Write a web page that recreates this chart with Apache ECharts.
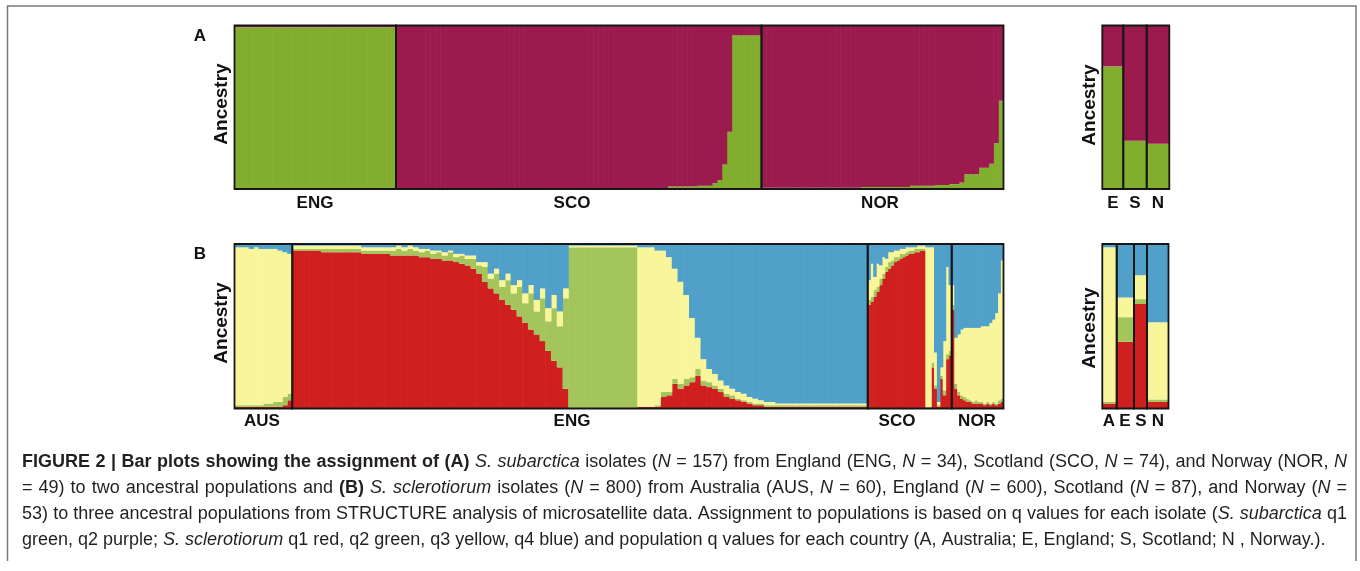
<!DOCTYPE html>
<html><head><meta charset="utf-8">
<script src="https://cdn.jsdelivr.net/npm/echarts@6/dist/echarts.min.js"></script>
<style>html,body{margin:0;padding:0;background:#fff}#c{width:1360px;height:571px}</style>
</head><body><div id="c"></div><script>
// ---------- Panel A (S. subarctica): q1 green, q2 purple, % per isolate ----------
const A_ENG_green = [99,99,99,99,99,99,99,99,99,99, 99,99,99,99,99,99,99,99,99,99, 99,99,99,99,99,99,99,99,99,99, 99,99,99,99];
const A_ENG_purple = [1,1,1,1,1,1,1,1,1,1, 1,1,1,1,1,1,1,1,1,1, 1,1,1,1,1,1,1,1,1,1, 1,1,1,1];
const A_SCO_green = [0.6,0.6,0.6,0.6,0.6,0.6,0.6,0.6,0.6,0.6, 0.6,0.6,0.6,0.6,0.6,0.6,0.6,0.6,0.6,0.6,
  0.6,0.6,0.6,0.6,0.6,0.6,0.6,0.6,0.6,0.6, 0.6,0.6,0.6,0.6,0.6,0.6,0.6,0.6,0.6,0.6,
  0.6,0.6,0.6,0.6,0.6,0.6,0.6,0.6,0.6,0.6, 0.6,0.6,0.6,0.6,0.6,
  1.5,1.5,1.5,1.5,1.5,1.5, 2,2,2, 3.5,5.5,15,35, 94,94,94,94,94,94];
const A_SCO_purple = [99.4,99.4,99.4,99.4,99.4,99.4,99.4,99.4,99.4,99.4, 99.4,99.4,99.4,99.4,99.4,99.4,99.4,99.4,99.4,99.4,
  99.4,99.4,99.4,99.4,99.4,99.4,99.4,99.4,99.4,99.4, 99.4,99.4,99.4,99.4,99.4,99.4,99.4,99.4,99.4,99.4,
  99.4,99.4,99.4,99.4,99.4,99.4,99.4,99.4,99.4,99.4, 99.4,99.4,99.4,99.4,99.4,
  98.5,98.5,98.5,98.5,98.5,98.5, 98,98,98, 96.5,94.5,85,65, 6,6,6,6,6,6];
const A_NOR_green = [0.7,0.7,0.7,0.7,0.7,0.7,0.7,0.7,0.7,0.7, 0.7,0.7,0.7,0.7,0.7,0.7,0.7,0.7,0.7,0.7,
  1.2,1.2,1.2,1.2,1.2,1.2,1.2,1.2,1.2,1.2, 2,2,2,2,2, 2.5,2.5,2.5, 3,3, 4, 9,9,9, 13,13, 15.5, 28, 54];
const A_NOR_purple = [99.3,99.3,99.3,99.3,99.3,99.3,99.3,99.3,99.3,99.3, 99.3,99.3,99.3,99.3,99.3,99.3,99.3,99.3,99.3,99.3,
  98.8,98.8,98.8,98.8,98.8,98.8,98.8,98.8,98.8,98.8, 98,98,98,98,98, 97.5,97.5,97.5, 97,97, 96, 91,91,91, 87,87, 84.5, 72, 46];
// country means, panel A
const A_SUM_cats = ['E','S','N'];
const A_SUM_green = [75, 29.5, 27.6];
const A_SUM_purple = [25, 70.5, 72.4];

// ---------- Panel B (S. sclerotiorum): q1 red, q2 green, q3 yellow, q4 blue, % per group of isolates ----------
const B_AUS_red    = [1,1,1,1,1,1,1,1,1,1,2,5];
const B_AUS_green  = [1,1,1,1,1,1,2,2,3,3,5,4];
const B_AUS_yellow = [96,96,96,95,96,95,94,94,93,92,88,85];
const B_AUS_blue   = [2,2,2,3,2,3,3,3,3,4,5,6];

const B_ENG_red = [96,96,96,96,96,95,95,95,95,95, 95,95,94,94,94,94,94,93,93,93,
  93,93,92,92,91,91,90,90,89,88, 87,85,82,77,73,70,66,63,60,56,
  52,48,45,41,35,29,25,12,0,0, 0,0,0,0,0,0,0,0,0,0,
  1,1,1,1,7,8,15,12,14,16, 20,14,13,12,10,7,6,5,4,3,
  2,2,1,1,1,1,1,1,1,1, 1,1,1,1,1,1,1,1,1,1];
const B_ENG_green = [1,1,1,1,1,2,2,2,2,2, 2,2,2,2,2,2,2,3,4,3,
  4,3,3,4,3,4,3,5,3,5, 4,6,5,9,6,12,8,15,10,18,
  12,22,14,26,18,32,25,55,98,98, 98,98,98,98,98,98,98,98,98,98,
  0,0,0,1,3,2,3,3,4,3, 4,3,3,2,2,2,2,1,1,1,
  1,1,1,1,1,1,1,1,1,1, 1,1,1,1,1,1,1,1,1,1];
const B_ENG_yellow = [2,2,2,2,2,2,2,2,2,2, 2,2,2,2,2,2,2,2,2,2,
  2,2,2,1,2,1,2,1,2,1, 2,2,2,3,3,3,4,4,5,4,
  6,5,7,6,8,8,9,6,1,1, 1,1,1,1,1,1,1,1,1,1,
  97,97,97,94,86,82,67,62,51,36, 19,13,8,7,5,5,4,4,4,3,
  3,2,2,2,1,1,1,1,1,1, 1,1,1,1,1,1,1,1,1,1];
const B_ENG_blue = [1,1,1,1,1,1,1,1,1,1, 1,1,2,2,2,2,2,2,1,2,
  1,2,3,3,4,4,5,4,6,6, 7,7,11,11,18,15,22,18,25,22,
  30,25,34,27,39,31,41,27,1,1, 1,1,1,1,1,1,1,1,1,1,
  2,2,2,4,4,8,15,23,31,45, 57,70,76,79,83,86,88,90,91,93,
  94,95,96,96,97,97,97,97,97,97, 97,97,97,97,97,97,97,97,97,97];

const B_SCO_red    = [63,65,68,71,75,79,83,85,87,89,90,91,92,93,94,94,95,95,96,96, 0,0,25,12,1,18,8,30,32];
const B_SCO_green  = [3,3,4,3,4,3,3,4,3,3,2,3,2,2,2,2,2,2,1,1, 1,1,3,2,1,2,3,3,3];
const B_SCO_yellow = [12,20,8,14,8,10,5,6,5,4,4,3,3,3,2,2,1,2,2,2, 97,97,70,20,2,5,30,53,40];
const B_SCO_blue   = [22,12,20,12,13,8,9,5,5,4,4,3,3,2,2,2,2,1,1,1, 2,2,2,66,96,75,59,14,25];

const B_NOR_red    = [60,12,8,6,5,4,4,3,3,3,3,2,3,2,3,2,3,4];
const B_NOR_green  = [3,3,2,2,2,2,1,1,2,1,1,1,1,1,1,1,2,2];
const B_NOR_yellow = [12,28,35,40,42,43,44,45,44,45,46,47,46,49,50,55,65,84];
const B_NOR_blue   = [25,57,55,52,51,51,51,51,51,51,50,50,50,48,46,42,30,10];

// country means, panel B
const B_SUM_cats = ['A','E','S','N'];
const B_SUM_red    = [3, 40.5, 63.5, 4];
const B_SUM_green  = [1, 15, 3, 1.5];
const B_SUM_yellow = [94, 12, 14.5, 47];
const B_SUM_blue   = [2, 32.5, 19, 47.5];

// ---------- styling ----------
const C_GREEN_A = '#82ae2f', C_PURPLE = '#9b1b4f';
const C_RED = '#cf1f1f', C_GREEN_B = '#a4c55b', C_YELLOW = '#f8f59b', C_BLUE = '#51a0c9';
const FONT = "'Liberation Sans', Arial, Helvetica, sans-serif";
const CAP_FONT = "'Liberation Sans Narrow', 'Liberation Sans', Arial, sans-serif";

const chart = echarts.init(document.getElementById('c'), null, {renderer: 'canvas'});
const grids = [], xAxes = [], yAxes = [], series = [], graphics = [];

function addPanel(left, right, top, bottom, cats, layers) {
  const gi = grids.length;
  const band = (right - left) / cats.length;
  grids.push({left: left, top: top, width: right - left, height: bottom - top, show: false, containLabel: false, outerBoundsMode: 'none'});
  xAxes.push({type: 'category', gridIndex: gi, data: cats, show: false, boundaryGap: true});
  yAxes.push({type: 'value', gridIndex: gi, min: 0, max: 100, show: false});
  layers.forEach(L => series.push({
    type: 'bar', xAxisIndex: gi, yAxisIndex: gi, stack: 's' + gi, data: L[0],
    barWidth: band + 0.6, barGap: '-100%',
    itemStyle: {color: L[1], borderWidth: 0},
    silent: true, animation: false
  }));
  graphics.push({type: 'rect', shape: {x: left, y: top, width: right - left, height: bottom - top},
    style: {fill: 'none', stroke: '#161616', lineWidth: 1.8}, z: 50, silent: true});
}
function idx(prefix, arr) { return arr.map((_, i) => prefix + (i + 1)); }

// Panel A layout
const A_TOP = 25.5, A_BOT = 189;
const A_X = [234.5, 396, 761.5, 1003.5];
addPanel(A_X[0], A_X[1], A_TOP, A_BOT, idx('ENG', A_ENG_green), [[A_ENG_green, C_GREEN_A], [A_ENG_purple, C_PURPLE]]);
addPanel(A_X[1], A_X[2], A_TOP, A_BOT, idx('SCO', A_SCO_green), [[A_SCO_green, C_GREEN_A], [A_SCO_purple, C_PURPLE]]);
addPanel(A_X[2], A_X[3], A_TOP, A_BOT, idx('NOR', A_NOR_green), [[A_NOR_green, C_GREEN_A], [A_NOR_purple, C_PURPLE]]);
const AS_X = [1102.3, 1123.3, 1146.7, 1169.3];
A_SUM_cats.forEach((c, k) => addPanel(AS_X[k], AS_X[k + 1], A_TOP, A_BOT, [c],
  [[[A_SUM_green[k]], C_GREEN_A], [[A_SUM_purple[k]], C_PURPLE]]));

// Panel B layout
const B_TOP = 244, B_BOT = 408.5;
const B_X = [234.5, 292.3, 867.7, 951.7, 1003.5];
const bRegions = [
  ['AUS', B_AUS_red, B_AUS_green, B_AUS_yellow, B_AUS_blue],
  ['ENG', B_ENG_red, B_ENG_green, B_ENG_yellow, B_ENG_blue],
  ['SCO', B_SCO_red, B_SCO_green, B_SCO_yellow, B_SCO_blue],
  ['NOR', B_NOR_red, B_NOR_green, B_NOR_yellow, B_NOR_blue]
];
bRegions.forEach((r, k) => addPanel(B_X[k], B_X[k + 1], B_TOP, B_BOT, idx(r[0], r[1]),
  [[r[1], C_RED], [r[2], C_GREEN_B], [r[3], C_YELLOW], [r[4], C_BLUE]]));
const BS_X = [1102.3, 1116.7, 1134, 1147, 1168.5];
B_SUM_cats.forEach((c, k) => addPanel(BS_X[k], BS_X[k + 1], B_TOP, B_BOT, [c],
  [[[B_SUM_red[k]], C_RED], [[B_SUM_green[k]], C_GREEN_B], [[B_SUM_yellow[k]], C_YELLOW], [[B_SUM_blue[k]], C_BLUE]]));

// labels
function txt(t, x, y, size, rot) {
  return {type: 'text', x: x, y: y, rotation: rot || 0, z: 60, silent: true,
    style: {text: t, fontSize: size, fontWeight: 'bold', fontFamily: FONT, fill: '#111',
      align: 'center', verticalAlign: 'middle', textAlign: 'center', textVerticalAlign: 'middle'}};
}
graphics.push(txt('A', 200, 36, 17));
graphics.push(txt('B', 200, 254, 17));
graphics.push(txt('Ancestry', 222, 104, 19, Math.PI / 2));
graphics.push(txt('Ancestry', 222, 323, 19, Math.PI / 2));
graphics.push(txt('Ancestry', 1090, 105, 19, Math.PI / 2));
graphics.push(txt('Ancestry', 1090, 328, 19, Math.PI / 2));
const A_LABELS = [['ENG', 315, 203], ['SCO', 572, 203], ['NOR', 880, 203], ['E', 1113, 203], ['S', 1135, 203], ['N', 1158, 203]];
const B_LABELS = [['AUS', 262, 421], ['ENG', 572, 421], ['SCO', 897, 421], ['NOR', 977, 421],
  ['A', 1109, 421], ['E', 1125, 421], ['S', 1141, 421], ['N', 1158, 421]];
A_LABELS.concat(B_LABELS).forEach(l => graphics.push(txt(l[0], l[1], l[2], 17)));

// outer frame
graphics.push({type: 'polyline', shape: {points: [[7.5, 561], [7.5, 6], [1356, 6], [1356, 561]]},
  style: {fill: 'none', stroke: '#7a7a7a', lineWidth: 1.5}, z: 40, silent: true});

// caption (justified)
const CAPTION = [
  [['b', 'FIGURE 2 | Bar plots showing the assignment of (A)'], ['i', ' S. subarctica'], ['', ' isolates ('], ['i', 'N'], ['', ' = 157) from England (ENG, '], ['i', 'N'], ['', ' = 34), Scotland (SCO, '], ['i', 'N'], ['', ' = 74), and Norway (NOR, '], ['i', 'N']],
  [['', '= 49) to two ancestral populations and '], ['b', '(B)'], ['i', ' S. sclerotiorum'], ['', ' isolates ('], ['i', 'N'], ['', ' = 800) from Australia (AUS, '], ['i', 'N'], ['', ' = 60), England ('], ['i', 'N'], ['', ' = 600), Scotland ('], ['i', 'N'], ['', ' = 87), and Norway ('], ['i', 'N'], ['', ' =']],
  [['', '53) to three ancestral populations from STRUCTURE analysis of microsatellite data. Assignment to populations is based on q values for each isolate ('], ['i', 'S. subarctica'], ['', ' q1']],
  [['', 'green, q2 purple; '], ['i', 'S. sclerotiorum'], ['', ' q1 red, q2 green, q3 yellow, q4 blue) and population q values for each country (A, Australia; E, England; S, Scotland; N , Norway.).']]
];
const CAP_Y = [462, 488, 514, 540], CAP_L = 22, CAP_R = 1347;
const mctx = document.createElement('canvas').getContext('2d');
function cfont(st, fs) { return (st.includes('i') ? 'italic ' : '') + (st.includes('b') ? 'bold ' : '') + fs + 'px ' + CAP_FONT; }
function mw(t, st, fs) { mctx.font = cfont(st, fs); return mctx.measureText(t).width; }
function words(line) {
  const ws = []; let nw = true;
  line.forEach(run => {
    run[1].split(' ').forEach((p, k) => {
      if (k > 0) nw = true;
      if (p === '') return;
      if (nw || !ws.length) ws.push([[run[0], p]]); else ws[ws.length - 1].push([run[0], p]);
      nw = false;
    });
  });
  return ws;
}
let CAP_FS = 18.5;
function natural(ws, fs) {
  let w = 0; ws.forEach(wd => wd.forEach(pc => { w += mw(pc[1], pc[0], fs); }));
  return w + (ws.length - 1) * mw(' ', '', fs);
}
CAPTION.forEach(line => {
  const ws = words(line);
  const n = natural(ws, CAP_FS);
  if (n > CAP_R - CAP_L - 4) CAP_FS = CAP_FS * (CAP_R - CAP_L - 4) / n;
});
CAPTION.forEach((line, li) => {
  const ws = words(line);
  const sp = mw(' ', '', CAP_FS);
  const n = natural(ws, CAP_FS);
  const extra = li < CAPTION.length - 1 ? (CAP_R - CAP_L - n) / (ws.length - 1) : 0;
  let x = CAP_L;
  ws.forEach(wd => {
    wd.forEach(pc => {
      graphics.push({type: 'text', x: x, y: CAP_Y[li], z: 60, silent: true,
        style: {text: pc[1], fontSize: CAP_FS, fontFamily: CAP_FONT, fontWeight: pc[0].includes('b') ? 'bold' : 'normal',
          fontStyle: pc[0].includes('i') ? 'italic' : 'normal', fill: '#231f20',
          align: 'left', verticalAlign: 'middle', textAlign: 'left', textVerticalAlign: 'middle'}});
      x += mw(pc[1], pc[0], CAP_FS);
    });
    x += sp + extra;
  });
});

chart.setOption({
  animation: false,
  backgroundColor: '#ffffff',
  grid: grids, xAxis: xAxes, yAxis: yAxes, series: series,
  graphic: {elements: graphics}
});
</script></body></html>
